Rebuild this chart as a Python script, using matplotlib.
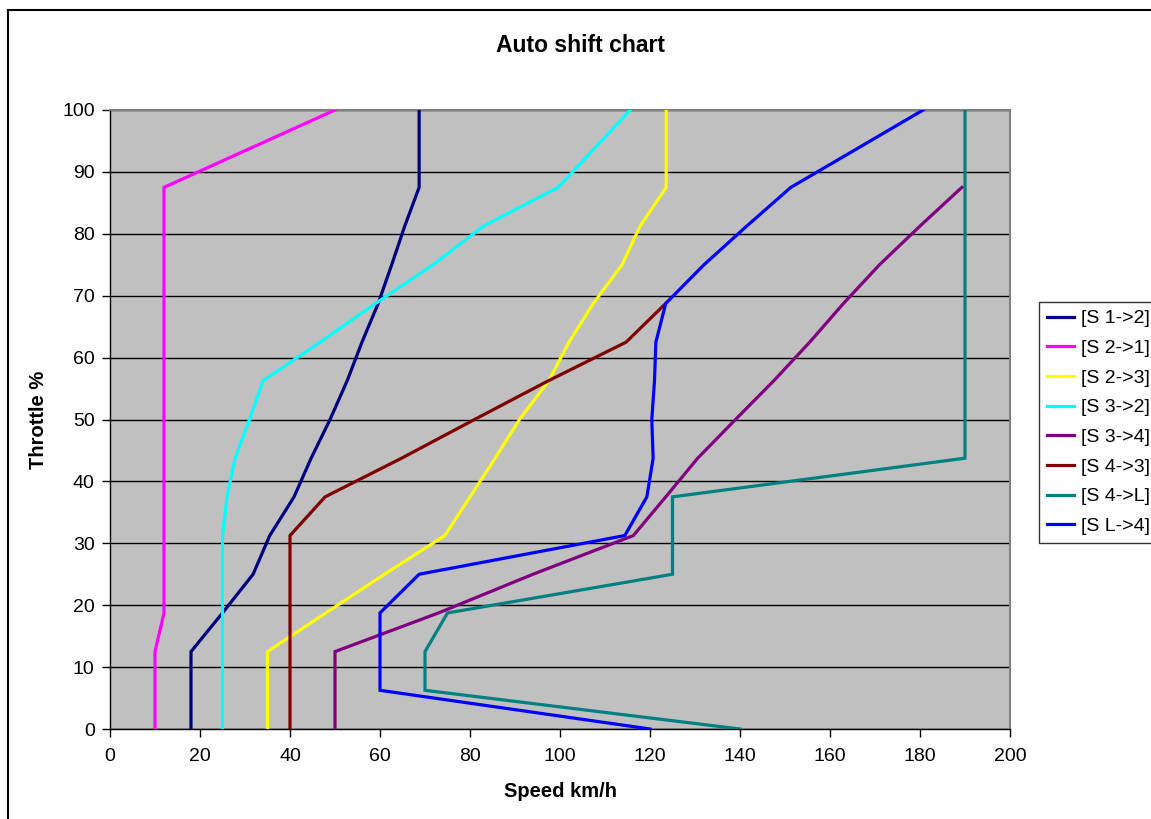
import numpy as np
import matplotlib
matplotlib.use("Agg")
import matplotlib.pyplot as plt
from matplotlib.patches import Rectangle

plt.rcParams["font.family"] = ["Liberation Sans", "DejaVu Sans"]

# throttle levels (%) shared by every shift line
throttle = [0, 6.25, 12.5, 18.75, 25, 31.25, 37.5, 43.75, 50, 56.25,
            62.5, 68.75, 75, 81.25, 87.5, 100]

nan = np.nan
s_1_2 = [18, 18, 18, 25, 31.8, 35.5, 40.9, 44.7, 48.9, 52.7, 56, 59.6, 62.6, 65.5, 68.7, 68.7]
s_2_1 = [10, 10, 10, 12, 12, 12, 12, 12, 12, 12, 12, 12, 12, 12, 12, 50]
s_2_3 = [35, 35, 35, 48, 61, 74.4, 80, 85.6, 91, 97.5, 102, 107.4, 113.8, 117.8, 123.6, 123.6]
s_3_2 = [25, 25, 25, 25, 25, 25, 26, 27.8, 31, 34, 46.7, 59, 71.8, 83, 99.6, 115.6]
s_3_4 = [50, 50, 50, 73, 94, 116.3, 123.5, 130.6, 139, 147.5, 155.5, 163, 171, 180, 189.3, nan]
s_4_3 = [40, 40, 40, 40, 40, 40, 47.8, 64.8, 81, 97.4, 114.7, 123.5, nan, nan, nan, nan]
s_4_L = [140, 70, 70, 75, 125, 125, 125, 190, 190, 190, 190, 190, 190, 190, 190, 190]
s_L_4 = [120, 60, 60, 60, 68.7, 114.4, 119.3, 120.7, 120.4, 121, 121.3, 123.5, 132, 141.5, 151.3, 180.7]

series = [
    ("[S 1->2]", s_1_2, "#000080"),
    ("[S 2->1]", s_2_1, "#FF00FF"),
    ("[S 2->3]", s_2_3, "#FFFF00"),
    ("[S 3->2]", s_3_2, "#00FFFF"),
    ("[S 3->4]", s_3_4, "#800080"),
    ("[S 4->3]", s_4_3, "#800000"),
    ("[S 4->L]", s_4_L, "#008080"),
    ("[S L->4]", s_L_4, "#0000FF"),
]

W, H = 1151, 819
fig = plt.figure(figsize=(W / 100, H / 100), dpi=100)
ax = fig.add_axes([110 / W, 1 - 729 / H, 900 / W, 619 / H])
ax.set_facecolor("#C0C0C0")

for label, speeds, color in series:
    ax.plot(speeds, throttle, color=color, lw=2.3, label=label,
            solid_joinstyle="miter", zorder=3)

ax.set_xlim(0, 200)
ax.set_ylim(0, 100)
ax.set_xticks(np.arange(0, 201, 20))
ax.set_yticks(np.arange(0, 101, 10))
ax.yaxis.grid(True, color="black", lw=1)
ax.set_axisbelow(True)
ax.tick_params(direction="out", length=6, width=1, labelsize=14, color="black")
ax.tick_params(axis="x", pad=8)
ax.tick_params(axis="y", pad=5)

for side in ["top", "right"]:
    ax.spines[side].set_color("#808080")
    ax.spines[side].set_linewidth(1.5)
for side in ["left", "bottom"]:
    ax.spines[side].set_color("black")
    ax.spines[side].set_linewidth(1)

ax.set_xlabel("Speed km/h", fontsize=14.5, fontweight="bold", labelpad=12)
ax.set_ylabel("Throttle %", fontsize=14.5, fontweight="bold", labelpad=10)
fig.text(580 / W, 1 - 46 / H, "Auto shift chart", fontsize=16.5,
         fontweight="bold", ha="center", va="center")

leg = fig.legend(loc="upper left", bbox_to_anchor=(1039 / W, 1 - 302 / H),
                 fontsize=14, frameon=True, fancybox=False, handlelength=1.4,
                 handletextpad=0.35, borderpad=0.4, labelspacing=0.62,
                 borderaxespad=0)
leg.get_frame().set_edgecolor("black")
leg.get_frame().set_linewidth(1)

# outer chart border (cut off at right and bottom like the original)
fig.patches.append(Rectangle((8 / W, -0.05), 1.1, 1.05 - 10 / H,
                             transform=fig.transFigure, fill=False,
                             edgecolor="black", lw=1.5))

fig.savefig("out.png", dpi=100)
